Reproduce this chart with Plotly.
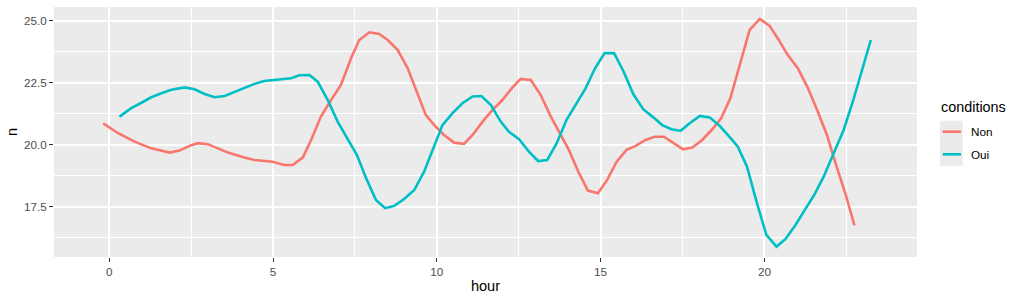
import plotly.graph_objects as go

# ---- data ----
non_hour = [-0.19, 0.27, 0.77, 1.28, 1.84, 2.14, 2.45, 2.70, 3.01, 3.62, 4.12, 4.43, 4.99, 5.34, 5.60,
            5.91, 6.16, 6.46, 6.77, 7.07, 7.38, 7.63, 7.94, 8.24, 8.50, 8.80, 9.11, 9.41, 9.66, 9.92,
            10.22, 10.53, 10.83, 11.09, 11.44, 11.70, 12.00, 12.31, 12.56, 12.87, 13.17, 13.48, 13.78,
            14.03, 14.34, 14.61, 14.92, 15.20, 15.49, 15.79, 16.07, 16.37, 16.65, 16.93, 17.23, 17.52,
            17.80, 18.10, 18.41, 18.68, 18.96, 19.25, 19.55, 19.86, 20.16, 20.44, 20.71, 21.02, 21.32,
            21.61, 21.91, 22.16, 22.47, 22.75]
non_n = [20.86, 20.46, 20.12, 19.85, 19.68, 19.76, 19.95, 20.06, 20.02, 19.68, 19.48, 19.38, 19.31, 19.18,
         19.18, 19.49, 20.19, 21.13, 21.80, 22.41, 23.48, 24.22, 24.53, 24.46, 24.22, 23.82, 23.08, 22.07,
         21.20, 20.79, 20.39, 20.08, 20.03, 20.39, 21.00, 21.40, 21.80, 22.31, 22.65, 22.61, 22.00, 21.13,
         20.39, 19.79, 18.85, 18.15, 18.04, 18.58, 19.31, 19.79, 19.95, 20.19, 20.32, 20.32, 20.06, 19.81,
         19.88, 20.19, 20.62, 21.06, 21.87, 23.28, 24.63, 25.07, 24.79, 24.22, 23.62, 23.08, 22.31, 21.40,
         20.39, 19.31, 18.04, 16.75]

oui_hour = [0.31, 0.67, 0.98, 1.28, 1.59, 1.89, 2.30, 2.60, 2.91, 3.21, 3.52, 3.82, 4.12, 4.43, 4.73,
            4.99, 5.30, 5.55, 5.80, 6.11, 6.36, 6.67, 6.97, 7.28, 7.56, 7.84, 8.14, 8.42, 8.70, 9.00,
            9.31, 9.61, 9.92, 10.17, 10.48, 10.78, 11.09, 11.36, 11.65, 11.95, 12.20, 12.51, 12.81,
            13.09, 13.37, 13.66, 13.96, 14.27, 14.54, 14.83, 15.12, 15.41, 15.69, 16.00, 16.30, 16.61,
            16.88, 17.16, 17.44, 17.72, 18.03, 18.33, 18.64, 18.91, 19.19, 19.47, 19.76, 20.06, 20.37,
            20.64, 20.95, 21.22, 21.52, 21.81, 22.11, 22.42, 22.70, 22.97, 23.25]
oui_n = [21.13, 21.47, 21.69, 21.91, 22.07, 22.21, 22.31, 22.23, 22.04, 21.91, 21.96, 22.13, 22.30, 22.45,
         22.57, 22.61, 22.64, 22.68, 22.80, 22.81, 22.54, 21.80, 20.93, 20.19, 19.58, 18.65, 17.77, 17.44,
         17.53, 17.81, 18.17, 18.91, 19.92, 20.79, 21.27, 21.67, 21.94, 21.96, 21.60, 20.93, 20.52, 20.22,
         19.72, 19.34, 19.38, 20.06, 21.00, 21.67, 22.27, 23.08, 23.69, 23.69, 22.98, 22.03, 21.43, 21.10,
         20.79, 20.62, 20.56, 20.86, 21.16, 21.10, 20.75, 20.35, 19.92, 19.11, 17.70, 16.36, 15.89, 16.19,
         16.76, 17.34, 17.97, 18.71, 19.63, 20.59, 21.73, 22.94, 24.22]

conditions = ["Non", "Oui"]
colors = ["#F8766D", "#00BFC4"]
x_ticks = [0, 5, 10, 15, 20]
y_ticks = [17.5, 20.0, 22.5, 25.0]
y_tick_text = ["17.5", "20.0", "22.5", "25.0"]
legend_title = "conditions"

FONT = "Liberation Sans, Arial, Helvetica, sans-serif"

fig = go.Figure()
for name, xs, ys, col in zip(conditions, [non_hour, oui_hour], [non_n, oui_n], colors):
    fig.add_trace(go.Scatter(x=xs, y=ys, mode="lines", name=name, legendgroup=name,
                             showlegend=False, line=dict(color=col, width=2.6)))

W, H = 1021, 300
L, R, T, B = 54, 104, 7, 43
pw, ph = W - L - R, H - T - B

def px_to_paper_x(px):
    return (px - L) / pw

def px_to_paper_y(py):
    return (H - B - py) / ph

# ggplot-style legend: grey key background, short coloured keys, labels
shapes = [dict(type="rect", xref="paper", yref="paper",
               x0=px_to_paper_x(940), x1=px_to_paper_x(962.7),
               y0=px_to_paper_y(166), y1=px_to_paper_y(120.7),
               fillcolor="#EBEBEB", line=dict(width=0), layer="below")]
annotations = [dict(text=legend_title, xref="paper", yref="paper",
                    x=px_to_paper_x(939), y=px_to_paper_y(107), xanchor="left", yanchor="middle",
                    showarrow=False, font=dict(size=14.4, color="black", family=FONT))]
key_y = [131.7, 154.3]
for name, col, ky in zip(conditions, colors, key_y):
    shapes.append(dict(type="line", xref="paper", yref="paper",
                       x0=px_to_paper_x(942.7), x1=px_to_paper_x(961),
                       y0=px_to_paper_y(ky), y1=px_to_paper_y(ky),
                       line=dict(color=col, width=2.6)))
    annotations.append(dict(text=name, xref="paper", yref="paper",
                            x=px_to_paper_x(969.5), y=px_to_paper_y(ky), xanchor="left",
                            yanchor="middle", showarrow=False,
                            font=dict(size=11.7, color="black", family=FONT)))

fig.update_layout(
    width=W, height=H,
    margin=dict(l=L, r=R, t=T, b=B, pad=0),
    paper_bgcolor="white",
    plot_bgcolor="#EBEBEB",
    font=dict(family=FONT, color="#4D4D4D", size=11.7),
    showlegend=False,
    xaxis=dict(
        range=[-1.69, 24.66],
        tickvals=x_ticks,
        ticktext=[str(v) for v in x_ticks],
        ticks="outside", ticklen=4, tickwidth=1.2, tickcolor="#333333",
        tickfont=dict(size=11.7, color="#4D4D4D"),
        showgrid=True, gridcolor="white", gridwidth=1.6,
        minor=dict(tickvals=[-2.5 + 5 * i for i in range(7)], showgrid=True,
                   gridcolor="white", gridwidth=0.8, ticks=""),
        zeroline=False, showline=False,
        title=dict(text="hour", font=dict(size=14.6, color="black"), standoff=3),
    ),
    yaxis=dict(
        range=[15.47, 25.55],
        tickvals=y_ticks,
        ticktext=y_tick_text,
        ticks="outside", ticklen=4, tickwidth=1.2, tickcolor="#333333",
        tickfont=dict(size=11.7, color="#4D4D4D"),
        showgrid=True, gridcolor="white", gridwidth=1.6,
        minor=dict(tickvals=[16.25, 18.75, 21.25, 23.75], showgrid=True,
                   gridcolor="white", gridwidth=0.8, ticks=""),
        zeroline=False, showline=False,
        title=dict(text="n", font=dict(size=14.6, color="black"), standoff=2),
    ),
    shapes=shapes,
    annotations=annotations,
)

fig.write_html("out.html")
